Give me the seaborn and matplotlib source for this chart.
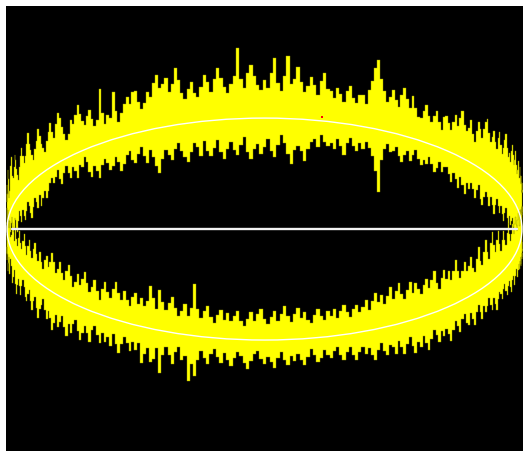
import numpy as np
import matplotlib
matplotlib.use("Agg")
import matplotlib.pyplot as plt
from matplotlib.patches import Ellipse
import seaborn as sns

# Spread of the noisy trace around the unit ellipse, sampled at equal angle
# steps from the left end (x=-1) to the right end (x=+1).
# Upper half: reach above / below the curve.
top_up = [
    .26, .32, .37, .28, .19, .25, .39, .44, .35, .23,
    .15, .20, .31, .40, .47, .36, .27, .24, .33, .42,
    .36, .27, .20, .15, .25, .34, .40, .31, .24, .29,
    .38, .47, .36, .29, .24, .18, .27, .33, .42, .35,
    .27, .22, .17, .26, .33, .40, .31, .24, .36, .45,
    .39, .30, .23, .16, .21, .32, .28, .35, .43, .34,
    .27, .22, .29, .34, .25, .18, .22, .49, .27, .16,
    .23, .20, .43, .25, .14, .21, .29, .34, .27, .38,
    .38, .27, .20, .25, .34, .29, .41, .48, .36, .39,
    .44, .31, .37, .51, .40, .28, .22, .31, .37, .26,
    .22, .31, .42, .35, .26, .37, .47, .38, .29, .24,
    .32, .39, .64, .36, .27, .41, .48, .38, .30, .25,
    .34, .27, .41, .54, .32, .25, .38, .56, .31, .36,
    .47, .34, .25, .30, .39, .32, .23, .36, .43, .29,
    .28, .22, .31, .26, .19, .30, .35, .24, .20, .28,
    .28, .21, .34, .43, .55, .63, .46, .36, .27, .32,
    .39, .30, .25, .36, .43, .34, .27, .38, .28, .21,
    .21, .28, .34, .25, .20, .27, .32, .23, .17, .29,
    .31, .26, .20, .29, .36, .27, .35, .42, .31, .26,
    .30, .38, .27, .21, .32, .41, .36, .29, .38, .45,
    .49, .38, .31, .36, .43, .34, .29, .40, .47, .36,
    .29, .36, .44, .51, .40, .33, .38, .31, .42, .49,
    .41, .33, .39, .48, .37, .30, .35, .44, .39, .32,
    .39, .44, .37, .31, .40, .35, .28, .33, .39, .31,
    .35,
]
top_dn = [
    .14, .19, .24, .17, .10, .16, .23, .28, .19, .12,
    .16, .24, .29, .20, .13, .09, .18, .25, .22, .15,
    .18, .26, .31, .22, .15, .20, .27, .17, .24, .29,
    .22, .15, .20, .27, .33, .24, .17, .22, .29, .18,
    .29, .23, .18, .25, .20, .14, .11, .16, .12, .07,
    .16, .21, .12, .07, .14, .20, .11, .16, .23, .12,
    .15, .07, .12, .22, .27, .18, .24, .31, .20, .15,
    .20, .27, .24, .17, .22, .31, .25, .18, .15, .24,
    .27, .20, .14, .23, .30, .18, .25, .34, .41, .29,
    .21, .26, .31, .22, .17, .24, .30, .35, .26, .19,
    .23, .31, .18, .27, .32, .25, .18, .29, .36, .27,
    .21, .28, .33, .24, .17, .30, .37, .28, .23, .32,
    .26, .19, .30, .35, .24, .15, .22, .32, .41, .28,
    .24, .29, .37, .26, .20, .17, .24, .13, .19, .22,
    .19, .24, .15, .21, .28, .17, .12, .19, .23, .15,
    .20, .13, .18, .25, .38, .56, .27, .16, .11, .18,
    .16, .12, .19, .24, .17, .13, .21, .15, .10, .17,
    .22, .16, .19, .12, .17, .24, .19, .13, .21, .16,
    .15, .20, .26, .17, .22, .29, .18, .24, .31, .20,
    .25, .18, .23, .30, .21, .16, .27, .32, .23, .18,
    .21, .28, .19, .25, .32, .23, .16, .21, .26, .19,
    .25, .30, .21, .16, .23, .28, .19, .26, .21, .17,
    .24, .29, .21, .26, .18, .22, .27, .21, .17, .24,
    .21, .26, .19, .23, .17, .25, .21, .16, .23, .19,
    .20,
]
# Lower half: reach away from the centre (outer) and towards it (inner).
bot_out = [
    .15, .20, .25, .18, .11, .16, .24, .29, .20, .13,
    .19, .26, .17, .10, .15, .23, .28, .21, .14, .19,
    .24, .31, .22, .15, .20, .27, .18, .11, .16, .24,
    .27, .19, .14, .23, .30, .21, .16, .25, .32, .23,
    .18, .12, .21, .28, .19, .25, .34, .27, .19, .28,
    .23, .16, .25, .32, .21, .28, .19, .14, .23, .30,
    .23, .16, .21, .28, .17, .12, .19, .26, .16, .23,
    .18, .25, .14, .22, .29, .20, .13, .18, .25, .16,
    .22, .15, .33, .24, .18, .30, .27, .16, .38, .22,
    .14, .21, .28, .17, .12, .23, .19, .41, .26, .36,
    .21, .13, .19, .24, .15, .10, .17, .22, .13, .19,
    .24, .17, .11, .15, .21, .26, .19, .13, .10, .17,
    .22, .15, .20, .25, .16, .11, .18, .23, .15, .20,
    .13, .19, .24, .17, .10, .15, .22, .19, .12, .17,
    .20, .14, .10, .18, .23, .16, .12, .20, .25, .18,
    .14, .21, .16, .23, .28, .19, .14, .21, .26, .17,
    .20, .27, .16, .22, .29, .20, .15, .24, .31, .22,
    .27, .18, .25, .32, .23, .16, .21, .28, .19, .25,
    .19, .25, .32, .23, .16, .21, .28, .17, .14, .23,
    .26, .16, .22, .29, .18, .13, .20, .28, .17, .24,
    .19, .13, .21, .26, .17, .23, .30, .21, .16, .19,
    .25, .17, .14, .21, .26, .19, .16, .23, .28, .19,
    .16, .22, .27, .20, .15, .18, .25, .20, .16, .22,
    .23, .17, .21, .16, .25, .19, .17, .23, .19, .21,
    .20,
]
bot_in = [
    .12, .17, .22, .16, .10, .13, .21, .26, .19, .13,
    .15, .22, .17, .10, .13, .21, .26, .19, .13, .22,
    .26, .18, .13, .22, .29, .20, .15, .24, .31, .22,
    .15, .24, .31, .22, .17, .26, .33, .24, .19, .28,
    .20, .15, .24, .29, .20, .26, .35, .28, .19, .24,
    .31, .22, .17, .26, .33, .24, .15, .20, .28, .19,
    .26, .33, .24, .17, .22, .29, .20, .13, .24, .31,
    .23, .18, .27, .34, .25, .19, .28, .21, .16, .25,
    .29, .20, .26, .19, .24, .38, .28, .19, .36, .26,
    .19, .26, .32, .23, .16, .21, .28, .17, .25, .47,
    .25, .17, .23, .28, .19, .13, .21, .26, .17, .23,
    .16, .21, .26, .17, .12, .19, .25, .17, .23, .28,
    .19, .14, .21, .26, .17, .23, .30, .21, .16, .23,
    .28, .19, .24, .17, .14, .21, .26, .19, .15, .23,
    .18, .24, .16, .22, .27, .20, .15, .22, .25, .18,
    .22, .28, .18, .26, .33, .24, .30, .21, .28, .35,
    .24, .30, .37, .26, .21, .28, .35, .24, .32, .26,
    .21, .28, .33, .24, .30, .37, .26, .19, .28, .35,
    .26, .32, .23, .30, .39, .28, .21, .26, .33, .24,
    .28, .35, .24, .19, .30, .39, .26, .21, .32, .41,
    .29, .22, .35, .44, .31, .24, .33, .40, .27, .20,
    .28, .35, .26, .20, .30, .37, .26, .19, .24, .32,
    .26, .20, .28, .33, .24, .18, .26, .31, .22, .17,
    .24, .29, .20, .16, .26, .22, .18, .24, .21, .17,
    .21,
]

# Fitted ellipse, horizontal axis line and a single highlighted sample
ellipse_center = (0.0, 0.0)
ellipse_width = 2.0
ellipse_height = 2.0
axis_x = [-0.98, 0.98]
axis_y = [0.0, 0.0]
mark_x = [0.223]
mark_y = [1.01]

sns.set_style("dark", {"axes.facecolor": "black", "figure.facecolor": "white"})

fig = plt.figure(figsize=(5.23, 4.51), dpi=100, facecolor="white")
ax = fig.add_axes([6 / 523, 0, 517 / 523, 445 / 451])
ax.set_facecolor("black")

n = len(top_up)
theta = np.linspace(np.pi, 0.0, n)
xs = np.cos(theta)
base = np.sin(theta)

yellow = "#ffff00"
edge = "#9a9a00"
ax.fill_between(xs, base + np.array(top_up), base - np.array(top_dn),
                step="mid", color=yellow, lw=0.3, edgecolor=edge)
ax.fill_between(xs, -base + np.array(bot_in), -base - np.array(bot_out),
                step="mid", color=yellow, lw=0.3, edgecolor=edge)

ax.add_patch(Ellipse(ellipse_center, ellipse_width, ellipse_height,
                     fill=False, edgecolor="white", lw=1.0))
sns.lineplot(x=axis_x, y=axis_y, color="#f2f2f2", lw=1.7, ax=ax)
ax.plot(mark_x, mark_y, ls="none", marker="s", ms=2, color="red", mew=0)

ax.set_xlim(-1.004, 1.004)
ax.set_ylim(-2.0, 2.01)
ax.set_xticks([])
ax.set_yticks([])
for s in ax.spines.values():
    s.set_visible(False)
ax.grid(False)

fig.savefig("out.png", dpi=100, facecolor="white")
